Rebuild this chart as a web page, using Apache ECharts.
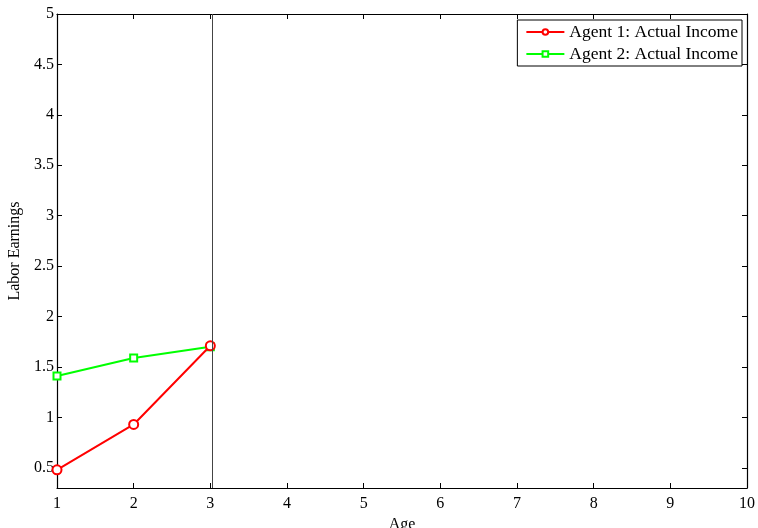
<!DOCTYPE html>
<html>
<head>
<meta charset="utf-8">
<script src="https://cdn.jsdelivr.net/npm/echarts@6/dist/echarts.min.js"></script>
<style>
html,body{margin:0;padding:0;background:#fff;}
#chart{width:758px;height:528px;}
</style>
</head>
<body>
<div id="chart"></div>
<script>
const ages = [1, 2, 3];
const agent1Income = [0.48, 0.93, 1.71];
const agent2Income = [1.41, 1.59, 1.70];
const currentAge = 3.02;
const seriesNames = ['Agent 1: Actual Income', 'Agent 2: Actual Income'];
const xTicks = [1, 2, 3, 4, 5, 6, 7, 8, 9, 10];
const yTicks = [0.5, 1, 1.5, 2, 2.5, 3, 3.5, 4, 4.5, 5];

const font = 'Liberation Serif, Times New Roman, serif';
const chart = echarts.init(document.getElementById('chart'));
const axisLine = {show: true, onZero: false, lineStyle: {color: '#000', width: 1.2}};
const tick = {show: true, inside: true, length: 5, lineStyle: {color: '#000'}};
chart.setOption({
  animation: false,
  backgroundColor: '#fff',
  textStyle: {fontFamily: font},
  grid: {left: 57, right: 11, top: 14, bottom: 40, outerBoundsMode: 'none', containLabel: false},
  legend: {
    right: 16, top: 20,
    orient: 'vertical',
    data: seriesNames,
    backgroundColor: '#fff',
    borderColor: '#000', borderWidth: 1,
    padding: [3, 4, 3, 8],
    itemGap: 4,
    itemWidth: 38, itemHeight: 7,
    textStyle: {fontFamily: font, fontSize: 17.5, color: '#000'}
  },
  xAxis: [
    {type: 'value', min: 1, max: 10, interval: 1, position: 'bottom',
      name: 'Age', nameLocation: 'middle', nameGap: 25,
      nameTextStyle: {fontFamily: font, fontSize: 16, color: '#000'},
      axisLine: axisLine, axisTick: tick, splitLine: {show: false},
      axisLabel: {fontFamily: font, fontSize: 16, color: '#000', margin: 8,
        formatter: v => xTicks.includes(v) ? String(v) : ''}},
    {type: 'value', min: 1, max: 10, interval: 1, position: 'top',
      axisLine: axisLine, axisTick: tick, splitLine: {show: false},
      axisLabel: {show: false}}
  ],
  yAxis: [
    {type: 'value', min: 0.3, max: 5, position: 'left',
      name: 'Labor Earnings', nameLocation: 'middle', nameGap: 33,
      nameTextStyle: {fontFamily: font, fontSize: 16, color: '#000'},
      axisLine: axisLine, splitLine: {show: false},
      axisLabel: {fontFamily: font, fontSize: 16, color: '#000', margin: 3,
        customValues: yTicks, formatter: v => String(v)},
      axisTick: Object.assign({customValues: yTicks}, tick)},
    {type: 'value', min: 0.3, max: 5, position: 'right',
      axisLine: axisLine, splitLine: {show: false},
      axisLabel: {show: false},
      axisTick: Object.assign({customValues: yTicks}, tick)}
  ],
  series: [
    {
      name: seriesNames[0], type: 'line',
      data: ages.map((a, i) => [a, agent1Income[i]]),
      symbol: 'emptyCircle', symbolSize: 9,
      lineStyle: {color: '#ff0000', width: 2},
      itemStyle: {color: '#ff0000', borderColor: '#ff0000', borderWidth: 2},
      z: 3,
      markLine: {
        silent: true, symbol: 'none', label: {show: false},
        lineStyle: {color: '#444', width: 1, type: 'solid'},
        data: [{xAxis: currentAge}]
      }
    },
    {
      name: seriesNames[1], type: 'line',
      data: ages.map((a, i) => [a, agent2Income[i]]),
      symbol: 'emptyRect', symbolSize: 7,
      lineStyle: {color: '#00ff00', width: 2},
      itemStyle: {color: '#00ff00', borderColor: '#00ff00', borderWidth: 2},
      z: 2
    }
  ]
});
</script>
</body>
</html>
